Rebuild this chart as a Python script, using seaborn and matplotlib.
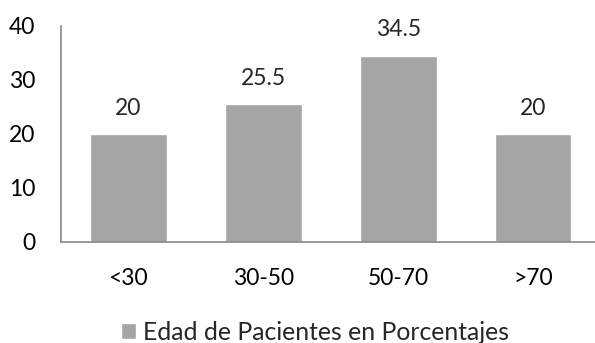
import matplotlib
matplotlib.use("Agg")
import matplotlib.pyplot as plt
import seaborn as sns
import pandas as pd

categories = ["<30", "30-50", "50-70", ">70"]
values = [20, 25.5, 34.5, 20]
labels = ["20", "25.5", "34.5", "20"]
series_name = "Edad de Pacientes en Porcentajes"

sns.set_style("white")
plt.rcParams['font.family'] = ['Lato', 'DejaVu Sans']

df = pd.DataFrame({"cat": categories, "val": values, "serie": series_name})

fig = plt.figure(figsize=(5.95, 3.43), dpi=100)
ax = fig.add_axes([61/595, 101/343, (595-61)/595, 216/343])
sns.barplot(data=df, x="cat", y="val", hue="serie", palette=["#A5A5A5"],
            width=0.57, ax=ax, legend=True, saturation=1)
ax.set_xlim(-0.5, 3.46)
ax.set_ylim(0, 40)
ax.set_yticks([0, 10, 20, 30, 40])
ax.set_xlabel("")
ax.set_ylabel("")
for s in ["top", "right"]:
    ax.spines[s].set_visible(False)
for s in ["left", "bottom"]:
    ax.spines[s].set_color("#888888")
    ax.spines[s].set_linewidth(1.2)
ax.tick_params(axis="both", length=0, labelsize=16.5, colors="black")
ax.tick_params(axis="y", pad=18.5)
ax.tick_params(axis="x", pad=19)

ax.bar_label(ax.containers[0], labels=labels, padding=11, fontsize=16.5)

leg = ax.get_legend()
leg.remove()
handles, lbls = ax.get_legend_handles_labels()
fig.legend(handles, lbls, loc="center", bbox_to_anchor=(315/595, 11/343), frameon=False,
           fontsize=17.8, handlelength=0.61, handleheight=0.61, handletextpad=0.25,
           borderpad=0)

fig.savefig("out.png", dpi=100)
